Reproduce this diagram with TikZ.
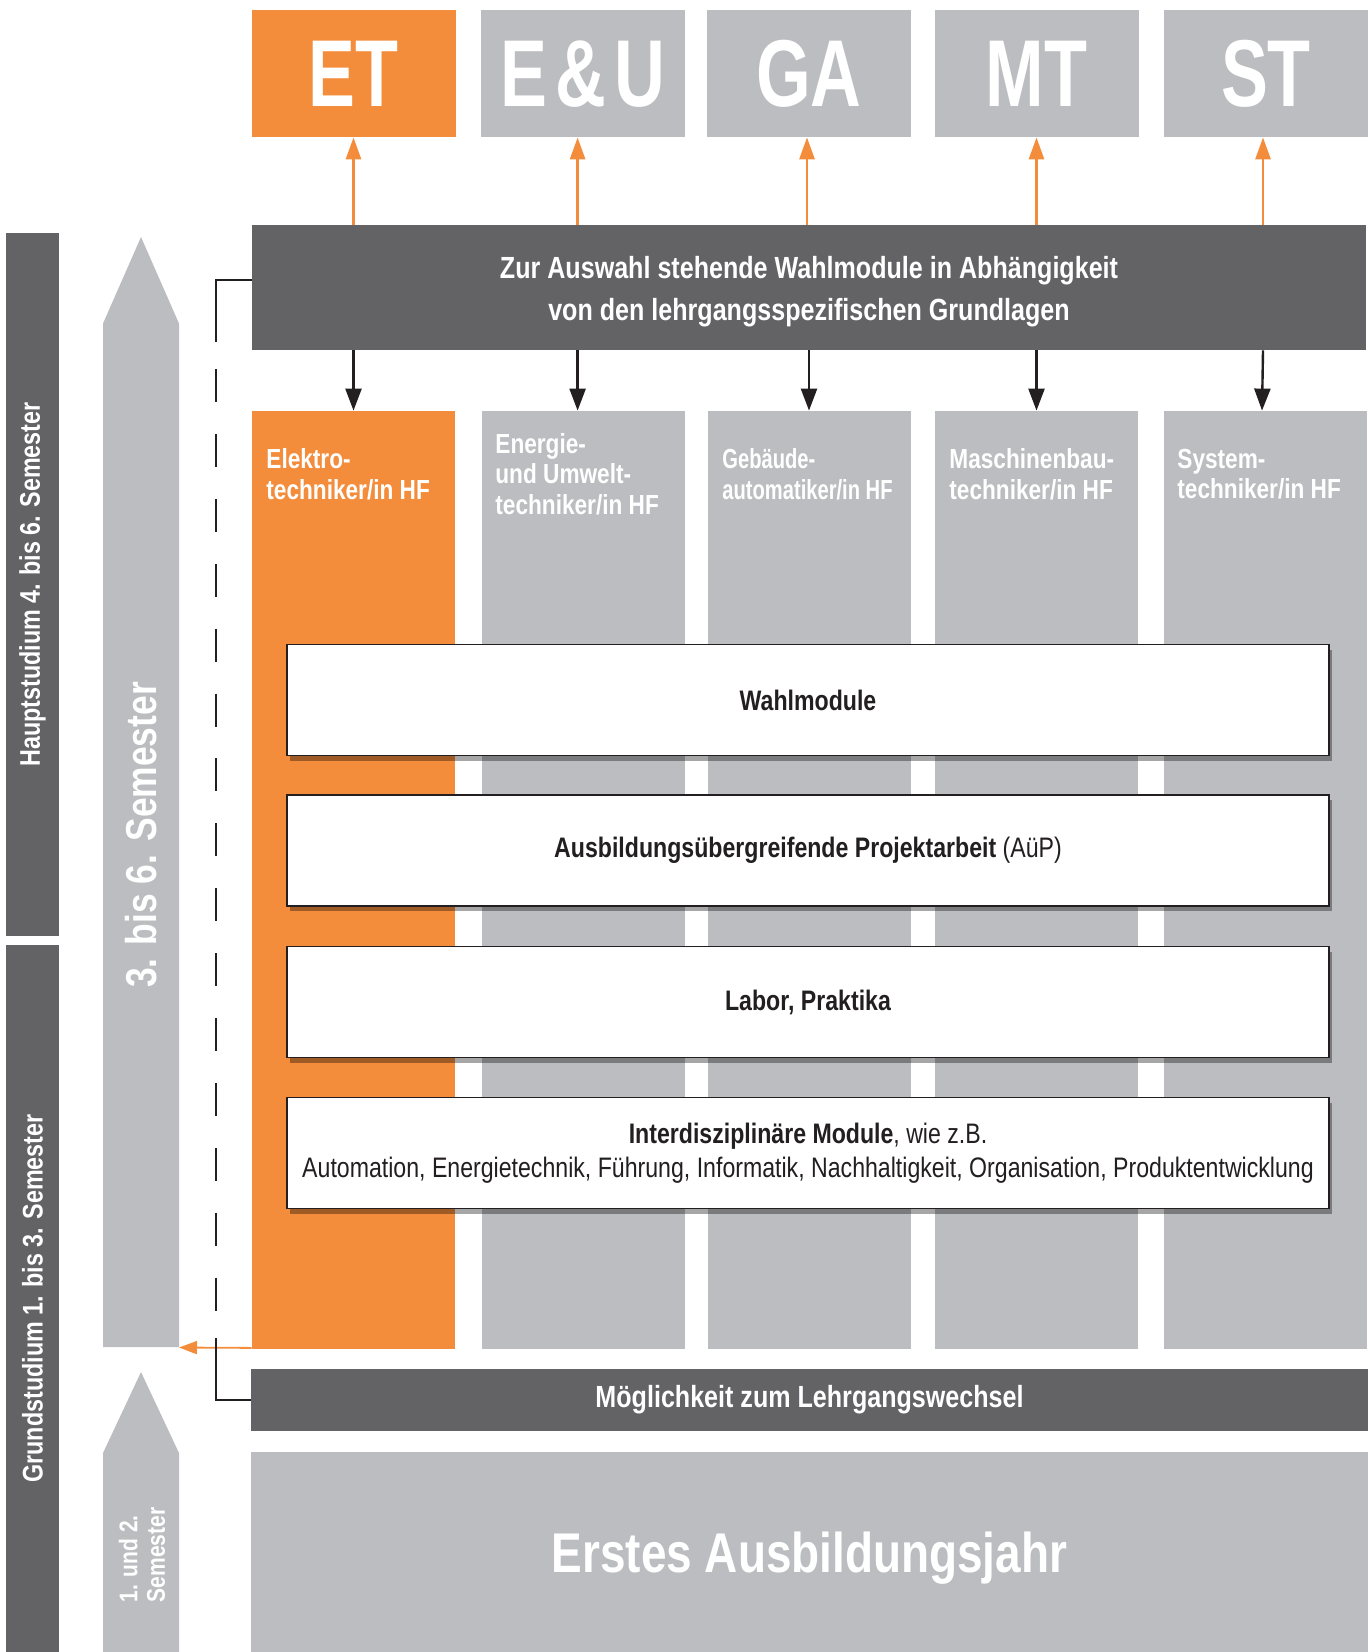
\documentclass[tikz,border=0pt]{standalone}
\usepackage{fontspec}
\setmainfont{Liberation Sans}[FakeStretch=0.82]
\newfontfamily\tagfont{Liberation Sans}[FakeStretch=0.74]
\newfontfamily\narrowfont{Liberation Sans}[FakeStretch=0.73]
\usetikzlibrary{shadows,arrows.meta}
\definecolor{hforange}{HTML}{F48D3B}
\definecolor{hfgrey}{HTML}{BCBDC0}
\definecolor{hfdark}{HTML}{636365}
\definecolor{hfink}{HTML}{231F20}

\begin{document}
\begin{tikzpicture}[x=0.5pt, y=-0.5pt,
  tag/.style={minimum width=102pt, minimum height=63.25pt, inner sep=0pt, text=white,
    font=\tagfont\bfseries\fontsize{47.5}{47.5}\selectfont},
  bar/.style={fill=hfdark, inner sep=0pt, text=white, align=center,
    font=\bfseries\fontsize{15.3}{21}\selectfont},
  colbox/.style={minimum width=101.5pt, minimum height=469pt, inner sep=0pt},
  collabel/.style={anchor=west, align=left, inner sep=0pt, text=white,
    font=\bfseries\fontsize{13.8}{15.3}\selectfont},
  modbox/.style={draw=hfink, line width=0.8pt, fill=white, minimum width=521pt,
    minimum height=55.5pt, inner sep=0pt, align=center, text=hfink,
    font=\fontsize{14.1}{16.9}\selectfont,
    drop shadow={shadow xshift=1.5pt, shadow yshift=-2.5pt, opacity=0.35, fill=black}},
  sidebar/.style={fill=hfdark, rotate=90, minimum height=26.35pt, inner sep=0pt,
    text=white, font=\bfseries\fontsize{14.2}{14.2}\selectfont},
  uparrow/.style={draw=hforange, line width=1.4pt, -{Triangle[length=11pt, width=7.5pt]}},
  downarrow/.style={draw=hfink, line width=1.2pt, -{Triangle[length=11pt, width=8pt]}},
  link/.style={draw=hfink, line width=1pt}]
  \useasboundingbox (0,0) rectangle (1368,1652);

  % course tags on top
  \node[tag, fill=hforange] (et) at (353.5,73.75) {ET};
  \node[tag, fill=hfgrey] (eu) at (583,73.75) {E\kern4pt\&\kern4pt U};
  \node[tag, fill=hfgrey] (ga) at (809,73.75) {GA};
  \node[tag, fill=hfgrey] (mt) at (1036.5,73.75) {MT};
  \node[tag, fill=hfgrey] (st) at (1266,73.75) {ST};

  % selection bar
  \node[bar, minimum width=557pt, minimum height=62.25pt] (wahl) at (809,287.75)
    {\strut Zur Auswahl stehende Wahlmodule in Abhängigkeit\\von den lehrgangsspezifischen Grundlagen};

  % course columns
  \node[colbox, fill=hforange] (etcol) at (353.5,880) {};
  \node[colbox, fill=hfgrey] (eucol) at (583,880) {};
  \node[colbox, fill=hfgrey] (gacol) at (809,880) {};
  \node[colbox, fill=hfgrey] (mtcol) at (1036.5,880) {};
  \node[colbox, fill=hfgrey] (stcol) at (1265,880) {};
  \node[collabel] (etlab) at (266,474) {Elektro-\\techniker/in HF};
  \node[collabel] (eulab) at (495,474) {Energie-\\und Umwelt-\\techniker/in HF};
  \node[collabel, font=\narrowfont\bfseries\fontsize{13.8}{15.3}\selectfont] (galab) at (722,474)
    {Gebäude-\\automatiker/in HF};
  \node[collabel] (mtlab) at (949,474) {Maschinenbau-\\techniker/in HF};
  \node[collabel] (stlab) at (1177,474) {System-\\techniker/in HF};

  % arrows to tags and columns
  \draw[uparrow] (et |- wahl.north) -- (et.south);
  \draw[uparrow] ([xshift=-2.7pt]eu |- wahl.north) -- ([xshift=-2.7pt]eu.south);
  \draw[uparrow] ([xshift=-1pt]ga |- wahl.north) -- ([xshift=-1pt]ga.south);
  \draw[uparrow] (mt |- wahl.north) -- (mt.south);
  \draw[uparrow] ([xshift=-1.5pt]st |- wahl.north) -- ([xshift=-1.5pt]st.south);
  \draw[downarrow] (et |- wahl.south) -- (etcol.north);
  \draw[downarrow] ([xshift=-2.7pt]eu |- wahl.south) -- ([xshift=-2.7pt]eucol.north);
  \draw[downarrow] (ga |- wahl.south) -- (gacol.north);
  \draw[downarrow] (mt |- wahl.south) -- (mtcol.north);
  \draw[downarrow] ([xshift=-1.5pt]st |- wahl.south) -- ([xshift=-1.5pt]stcol.north);

  % modules across all columns
  \node[modbox] (wm) at (808,700) {\bfseries Wahlmodule};
  \node[modbox] (aup) at (808,850.5) {\textbf{Ausbildungsübergreifende Projektarbeit} (AüP)};
  \node[modbox] (lab) at (808,1002) {\bfseries Labor, Praktika};
  \node[modbox] (idm) at (808,1153) {\textbf{Interdisziplinäre Module}, wie z.B.\\
    Automation, Energietechnik, Führung, Informatik, Nachhaltigkeit, Organisation, Produktentwicklung};

  % lower bars
  \node[bar, minimum width=558.5pt, minimum height=31pt] (moeg) at (809.5,1400)
    {Möglichkeit zum Lehrgangswechsel};
  \node[fill=hfgrey, minimum width=558.5pt, minimum height=100pt, inner sep=0pt, text=white,
    text depth=0pt, font=\bfseries\fontsize{28}{28}\selectfont] (jahr) at (809.5,1552)
    {Erstes Ausbildungsjahr};

  % left side bars
  \node[sidebar, minimum width=351.5pt] (haupt) at (32.6,584.5) {Hauptstudium 4. bis 6. Semester};
  \node[sidebar, minimum width=353.5pt] (grund) at (32.6,1298.5) {Grundstudium 1. bis 3. Semester};

  % semester arrows
  \fill[hfgrey] (103,1347) -- (103,323.5) -- (141,237) -- (179,323.5) -- (179,1347) -- cycle;
  \fill[hfgrey] (103,1652) -- (103,1453) -- (141,1372) -- (179,1453) -- (179,1652) -- cycle;
  \node[rotate=90, text=white, inner sep=0pt, font=\bfseries\fontsize{21.6}{21.6}\selectfont]
    (sem36) at (141,835) {3. bis 6. Semester};
  \node[rotate=90, align=left, text=white, inner sep=0pt, font=\bfseries\fontsize{12.8}{13.7}\selectfont]
    (sem12) at (142,1555) {1. und 2.\\Semester};
  \coordinate (shaftr) at (179,1347.5);
  \draw[draw=hforange, line width=0.9pt, -{Triangle[length=9pt, width=6.5pt]}]
    ([yshift=0.75pt]etcol.south west) -- (shaftr);

  % change of course
  \coordinate (dtop) at (216,342);
  \coordinate (dbot) at (216,1338);
  \draw[link] ([yshift=3.9pt]wahl.west) -| (dtop);
  \draw[link, dash pattern=on 16.5pt off 15.95pt, dash phase=18.95pt] (dtop) -- (dbot);
  \draw[link] (dbot) |- (moeg.west);
\end{tikzpicture}
\end{document}
